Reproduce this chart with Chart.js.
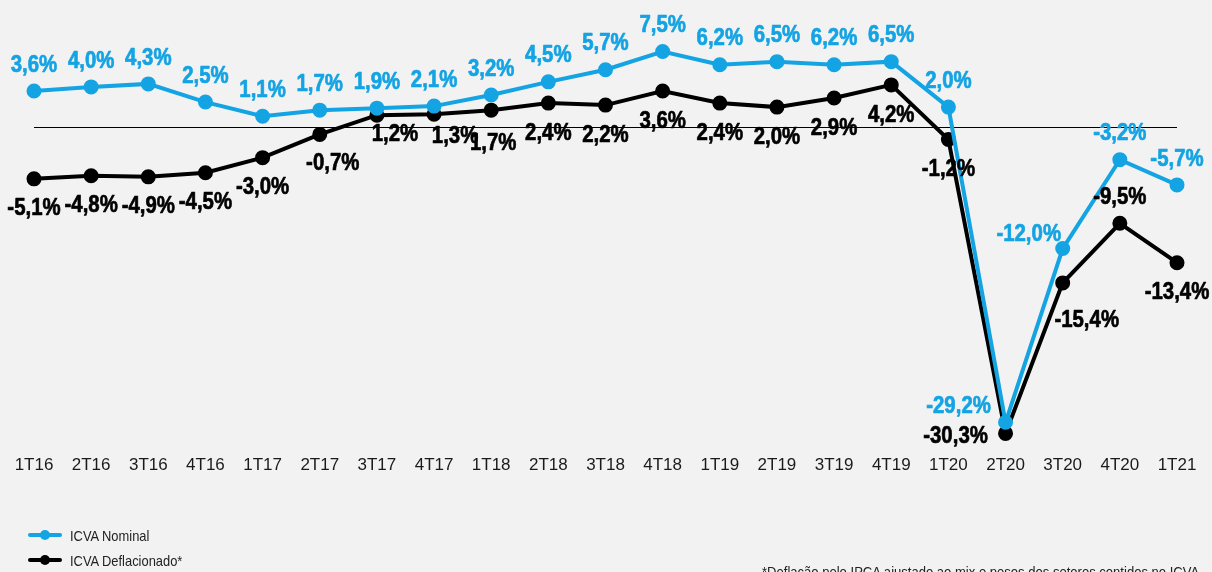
<!DOCTYPE html>
<html><head><meta charset="utf-8">
<script src="https://cdn.jsdelivr.net/npm/chart.js@4.4.0/dist/chart.umd.min.js"></script>
<style>
html,body{margin:0;padding:0;background:#f2f2f2;}
#wrap{position:relative;width:1212px;height:572px;overflow:hidden;background:#f2f2f2;}
#c{position:absolute;left:0;top:0;}
.leg{position:absolute;left:28px;height:18px;color:#222;display:flex;align-items:center;white-space:nowrap;}
.sw{position:relative;width:34px;height:16px;margin-right:8px;flex:none;}
.sw .ln{position:absolute;left:0;top:6px;width:34px;height:4px;border-radius:2px;}
.sw .dt{position:absolute;left:12px;top:3px;width:10px;height:10px;border-radius:50%;}
.tx{display:inline-block;transform-origin:0 50%;}
#foot{position:absolute;left:762px;color:#222;white-space:nowrap;line-height:1;transform-origin:0 0;}
</style></head>
<body>
<div id="wrap">
<canvas id="c" width="1212" height="572"></canvas>
<div class="leg" id="leg1" style="top:526px"><div class="sw"><div class="ln" style="background:#14a3e3"></div><div class="dt" style="background:#14a3e3"></div></div><span class="tx">ICVA Nominal</span></div>
<div class="leg" id="leg2" style="top:551px"><div class="sw"><div class="ln" style="background:#000"></div><div class="dt" style="background:#000"></div></div><span class="tx">ICVA Deflacionado*</span></div>
<div id="foot">*Deflação pelo IPCA ajustado ao mix e pesos dos setores contidos no ICVA</div>
</div>
<script>
const categories = ['1T16','2T16','3T16','4T16','1T17','2T17','3T17','4T17','1T18','2T18','3T18','4T18','1T19','2T19','3T19','4T19','1T20','2T20','3T20','4T20','1T21'];
const nominal = [3.6,4.0,4.3,2.5,1.1,1.7,1.9,2.1,3.2,4.5,5.7,7.5,6.2,6.5,6.2,6.5,2.0,-29.2,-12.0,-3.2,-5.7];
const deflacionado = [-5.1,-4.8,-4.9,-4.5,-3.0,-0.7,1.2,1.3,1.7,2.4,2.2,3.6,2.4,2.0,2.9,4.2,-1.2,-30.3,-15.4,-9.5,-13.4];

// label nudges (pixels) relative to each point
const nominalLabelNudge = {17:[-47,-17],18:[-34,-15]};
const deflLabelNudge = {5:[13,28],6:[18,18],7:[21,21],8:[2,32],17:[-50,2],18:[24,36],19:[0,-27]};

const BLUE = '#14a3e3';
const BLACK = '#000000';

function fontAvailable(name){
  const c = document.createElement('canvas').getContext('2d');
  const s = '1T16 abcWmi ICVA';
  c.font = '20px monospace'; const a = c.measureText(s).width;
  c.font = '20px "' + name + '", monospace'; const b = c.measureText(s).width;
  c.font = '20px serif'; const a2 = c.measureText(s).width;
  c.font = '20px "' + name + '", serif'; const b2 = c.measureText(s).width;
  return a !== b && a2 !== b2;
}
const HAS_NARROW = fontAvailable('Liberation Sans Narrow');
const NARROW = "'Liberation Sans Narrow', 'Liberation Sans', Arial, sans-serif";
const REG = "'Liberation Sans', Arial, sans-serif";

document.querySelectorAll('.tx').forEach(el => {
  if (HAS_NARROW) { el.style.font = '16px ' + NARROW; }
  else { el.style.font = '15px ' + REG; el.style.transform = 'scaleX(0.86)'; }
});
const foot = document.getElementById('foot');
if (HAS_NARROW) { foot.style.font = '16px ' + NARROW; }
else { foot.style.font = '15px ' + REG; foot.style.transform = 'scaleX(0.87)'; }
foot.style.top = '563px';

const fmt = v => v.toFixed(1).replace('.', ',') + '%';

const labelPlugin = {
  id: 'pointLabels',
  afterDatasetsDraw(chart) {
    const ctx = chart.ctx;
    chart.data.datasets.forEach((ds, di) => {
      const meta = chart.getDatasetMeta(di);
      const nudges = di === 0 ? nominalLabelNudge : deflLabelNudge;
      const def = di === 0 ? [0, -27] : [0, 29];
      const col = di === 0 ? BLUE : '#000';
      meta.data.forEach((pt, i) => {
        const n = nudges[i] || def;
        const x = pt.x + n[0], y = pt.y + n[1];
        const txt = fmt(ds.data[i]);
        ctx.save();
        ctx.fillStyle = col;
        ctx.strokeStyle = col;
        ctx.lineWidth = 0.7;
        ctx.lineJoin = 'round';
        ctx.textAlign = 'center';
        ctx.textBaseline = 'middle';
        if (HAS_NARROW) {
          ctx.font = "bold 24px " + NARROW;
          ctx.fillText(txt, x, y + 1);
          ctx.strokeText(txt, x, y + 1);
        } else {
          ctx.font = "bold 24px " + REG;
          ctx.translate(x, y + 1);
          ctx.scale(0.85, 1);
          ctx.fillText(txt, 0, 0);
          ctx.strokeText(txt, 0, 0);
        }
        ctx.restore();
      });
    });
  }
};

const tickFont = HAS_NARROW ? {family: NARROW, size: 20} : {family: REG, size: 17};

new Chart(document.getElementById('c'), {
  type: 'line',
  data: {
    labels: categories,
    datasets: [
      {label:'ICVA Nominal', data: nominal, borderColor: BLUE, backgroundColor: BLUE,
       pointBackgroundColor: BLUE, pointBorderColor: BLUE, borderWidth: 4, pointRadius: 5.5, pointHoverRadius: 5.5, tension: 0, clip: false},
      {label:'ICVA Deflacionado*', data: deflacionado, borderColor: BLACK, backgroundColor: BLACK,
       pointBackgroundColor: BLACK, pointBorderColor: BLACK, borderWidth: 4, pointRadius: 5.5, pointHoverRadius: 5.5, tension: 0, clip: false}
    ]
  },
  options: {
    responsive: false,
    animation: false,
    layout: {padding: {left: 34, right: 35, top: 26.3, bottom: HAS_NARROW ? 89 : 91}},
    plugins: {legend: {display: false}, tooltip: {enabled: false}},
    scales: {
      x: {
        offset: false,
        grid: {display: false, drawTicks: false},
        border: {display: false},
        ticks: {autoSkip: false, maxRotation: 0, padding: 5, color: '#1a1a1a', font: tickFont}
      },
      y: {
        min: -32, max: 10,
        ticks: {display: false, stepSize: 2},
        border: {display: false},
        grid: {drawTicks: false, lineWidth: 1,
               color: c => (c.tick && c.tick.value === 0) ? '#000' : 'rgba(0,0,0,0)'}
      }
    }
  },
  plugins: [labelPlugin]
});
</script>
</body></html>
